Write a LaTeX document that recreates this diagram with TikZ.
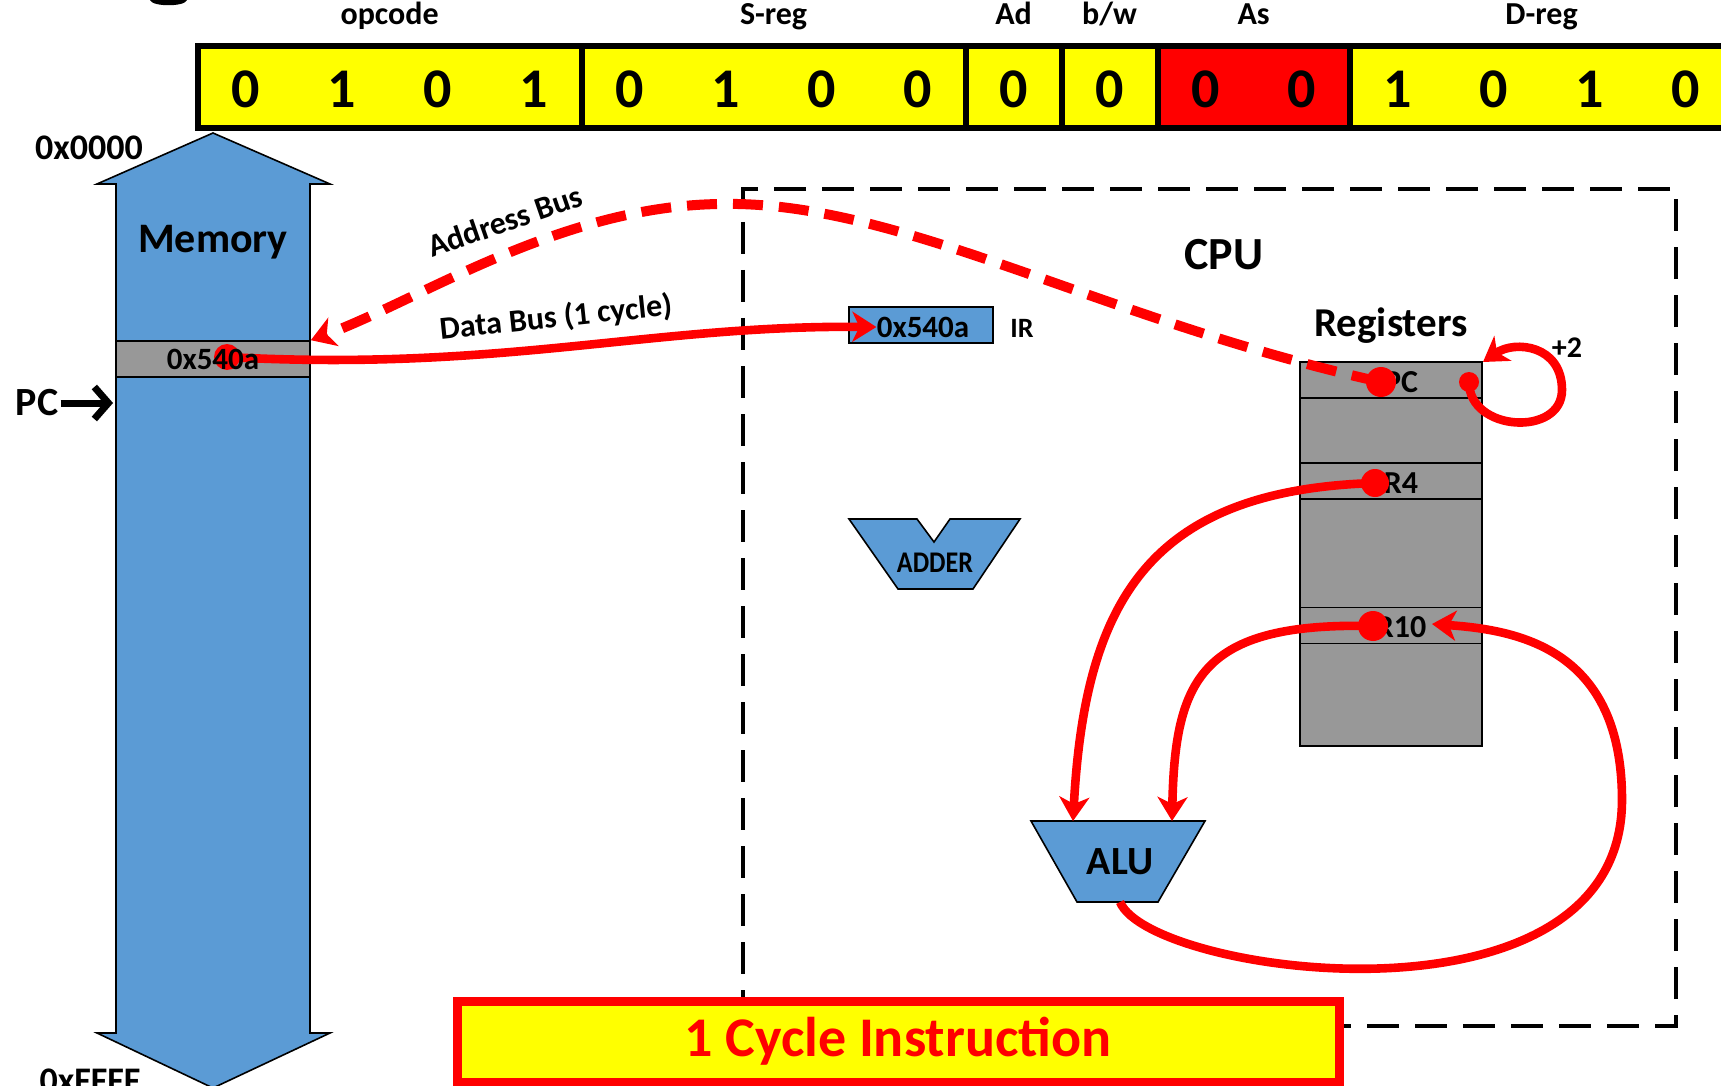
\documentclass[tikz,border=0pt]{standalone}
\usepackage{fontspec}
\setmainfont{Carlito}
\usepackage{tikz}
\usetikzlibrary{arrows.meta}
\definecolor{yl}{HTML}{FFFF00}
\definecolor{rd}{HTML}{FF0000}
\definecolor{bl}{HTML}{5B9BD5}
\definecolor{gy}{HTML}{989898}
\newcommand{\Fz}[1]{\fontsize{#1}{#1}\selectfont\bfseries}
\tikzset{
  fld/.style={draw, line width=3pt, minimum height=41pt, inner sep=0pt},
  bit/.style={font=\Fz{28pt}},
  lbl/.style={font=\Fz{16pt}, anchor=base, inner sep=0pt},
  cell/.style={draw, line width=.8pt, fill=gy, inner sep=0pt},
  rdot/.style={circle, fill=rd, inner sep=0pt, minimum size=#1},
  wire/.style={draw=rd, line width=4.3pt, -{Stealth[length=12pt, width=15pt, inset=3.5pt]}},
  bus/.style={wire, line width=5pt, dash pattern=on 15pt off 8pt},
}

\begin{document}
\begin{tikzpicture}[x=.5pt, y=-.5pt, inner sep=1pt]
  \useasboundingbox (0,0) rectangle (1721,1086);
  \clip (0,0) rectangle (1721,1086);
  % cut-off glyph of the title
  \fill (150,0) .. controls (152,7) and (185,7) .. (187,0) -- cycle;
  % instruction word
  \foreach \nm/\cx/\w/\fc/\tx in {fop/389.6/192/yl/opcode, fsreg/773.6/192/yl/S-reg,
      fad/1013.6/48/yl/Ad, fbw/1109.6/48/yl/b\slash w, fas/1253.6/96/rd/As, fdreg/1541.6/192/yl/D-reg} {
    \node[fld, fill=\fc, minimum width=\w pt] (\nm) at (\cx,87) {};
    \path (\nm.north) +(0,-18) node[lbl] (\nm l) {\tx};
  }
  \foreach \b [count=\i from 0] in {0,1,0,1,0,1,0,0,0,0,0,0,1,0,1,0}
    \node[bit] (b\i) at (245.6+96*\i,89) {\b};
  % memory
  \filldraw[fill=bl, line width=.8pt] (213,133) -- (330,184) -- (310,184) -- (310,1033) -- (330,1033)
    -- (213,1088) -- (97,1033) -- (116,1033) -- (116,184) -- (97,184) -- cycle;
  \node[font=\Fz{21pt}] (mem) at (213,242) {Memory};
  \node[font=\Fz{18pt}] (addrlo) at (89,148) {0x0000};
  \node[font=\Fz{18pt}] (addrhi) at (90,1081) {0xFFFF};
  \node[cell, minimum width=97pt, minimum height=18pt] (memcell) at (213,359) {};
  \node[font=\Fz{20pt}] (pcl) at (37,403) {PC};
  \coordinate (pcptr) at (113,403);
  \draw[line width=3.5pt, -{Straight Barb[length=7pt, width=16pt]}] (pcl.east) -- (pcptr);
  % cpu
  \node[draw, line width=2.2pt, dash pattern=on 16pt off 8pt, minimum width=466.5pt,
        minimum height=418.5pt] (cpu) at (1209.5,607.5) {};
  \node[font=\Fz{23pt}] (cpul) at (1224,255) {CPU};
  \node[draw, line width=.8pt, fill=bl, minimum width=72pt, minimum height=18pt] (ir) at (921,325) {};
  \node[font=\Fz{15.5pt}, inner sep=0pt] (irval) at (923,327) {0x540a};
  \node[font=\Fz{14pt}] (irl) at (1022,328) {IR};
  \filldraw[fill=bl, line width=.8pt] (849,519) -- (917,519) -- (934,542) -- (950,519) -- (1020,519)
    -- (973,589) -- (898,589) -- cycle;
  \node[font=\Fz{15pt}, xscale=.87, transform shape] (adder) at (935,563) {ADDER};
  \filldraw[fill=bl, line width=.8pt] (1031,821) -- (1205,821) -- (1158,902) -- (1077,902) -- cycle;
  \node[font=\Fz{20pt}] (alu) at (1120,862) {ALU};
  \coordinate (alua) at (1073,821);
  \coordinate (alub) at (1172,821);
  \coordinate (aluout) at (1120,902);
  % registers
  \node[font=\Fz{20.5pt}] (regl) at (1391,326) {Registers};
  \node[cell, minimum width=91pt, minimum height=192pt] (regs) at (1391,554) {};
  \foreach \nm/\cy/\tx in {pcrow/380/PC, rfour/481/R4, rten/625.5/R10} {
    \node[cell, minimum width=91pt, minimum height=18pt] (\nm) at (1391,\cy) {};
    \node[font=\Fz{16pt}] (\nm t) at (1401,\cy+2) {\tx};
  }
  \coordinate (pcin) at (1483,362);
  \coordinate (r10in) at (1432,624);
  \node[font=\Fz{15pt}] (inc) at (1567,348) {+2};
  % buses
  \node[font=\Fz{16pt}, rotate=19] (abl) at (505,221) {Address Bus};
  \node[font=\Fz{16pt}, rotate=6] (dbl) at (556,318) {Data Bus (1 cycle)};
  \node[rdot=13pt] (memdot) at (227,357) {};
  \node[rdot=15pt] (pcdot) at (1381,382) {};
  \node[rdot=10pt] (incdot) at (1469,382) {};
  \node[rdot=14pt] (r4dot) at (1375,483) {};
  \node[rdot=15pt] (r10dot) at (1373,626) {};
  \draw[wire] (memdot.center) .. controls (500,372) and (650,325) .. (irval.west);
  \node[font=\Fz{15.5pt}] (memval) at (memcell) {0x540a};
  \draw[bus] (pcdot.center) .. controls (1100,320) and (900,200) .. (720,204)
    .. controls (560,206) and (420,300) .. (memcell.north east);
  \draw[wire] (incdot.center) .. controls (1469,432) and (1562,437) .. (1562,390)
    .. controls (1562,345) and (1515,340) .. (pcin);
  \draw[wire] (r4dot.center) .. controls (1150,490) and (1085,600) .. (alua);
  \draw[wire] (r10dot.center) .. controls (1200,622) and (1175,680) .. (alub);
  \draw[wire] (aluout) .. controls (1150,975) and (1622,1040) .. (1622,800)
    .. controls (1622,650) and (1520,630) .. (r10in);
  \node[draw=rd, line width=4.5pt, fill=yl, minimum width=441pt, minimum height=40.5pt,
        text=rd, font=\Fz{28pt}] (cyc) at (898,1041.5) {1 Cycle Instruction};
\end{tikzpicture}
\end{document}
